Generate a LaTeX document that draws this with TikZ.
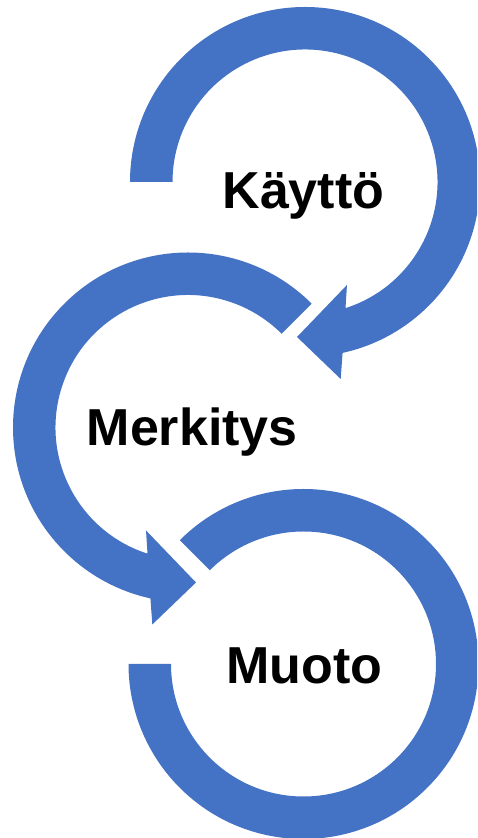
\documentclass[tikz,border=0pt]{standalone}
\usepackage{fontspec}
\setmainfont{Liberation Sans}
\usetikzlibrary{calc}
\definecolor{arrowblue}{HTML}{4472C4}
\begin{document}
\begin{tikzpicture}[x=1pt,y=1pt,
  band/.style={fill=arrowblue, draw=none},
  lbl/.style={font=\fontsize{52}{60}\selectfont\bfseries, anchor=base, inner sep=0pt, text=black}]
\path[use as bounding box] (0,0) rectangle (477,838);
\clip (0,0) rectangle (477,838);
\coordinate (A) at (305,656);
\coordinate (B) at (188,410.5);
\coordinate (C) at (303.5,174);
% top arrow
\fill[band] ($(A)+(180:175)$) arc[start angle=180, end angle=-77.6, radius=175]
  -- ($(A)+(-79.73:200.2)$) -- ($(A)+(-92.95:155.2)$) -- ($(A)+(-67.82:111.2)$)
  -- ($(A)+(-72.2:132.5)$) arc[start angle=-72.2, end angle=180, radius=132.5] -- cycle;
% middle arrow
\fill[band] ($(B)+(45:175)$) arc[start angle=45, end angle=257.6, radius=175]
  -- ($(B)+(259.73:200.2)$) -- ($(B)+(272.95:155.2)$) -- ($(B)+(247.82:111.2)$)
  -- ($(B)+(252.2:132.5)$) arc[start angle=252.2, end angle=45, radius=132.5] -- cycle;
% bottom arc
\fill[band] ($(C)+(135:175)$) arc[start angle=135, end angle=-180, radius=175]
  -- ($(C)+(180:132.5)$) arc[start angle=-180, end angle=135, radius=132.5] -- cycle;
% labels
\node[lbl] (kaytto) at (303.4,629) {Käyttö};
\node[lbl] (merkitys) at (192.2,392.3) {Merkitys};
\node[lbl] (muoto) at (304.4,154) {Muoto};
\end{tikzpicture}
\end{document}
